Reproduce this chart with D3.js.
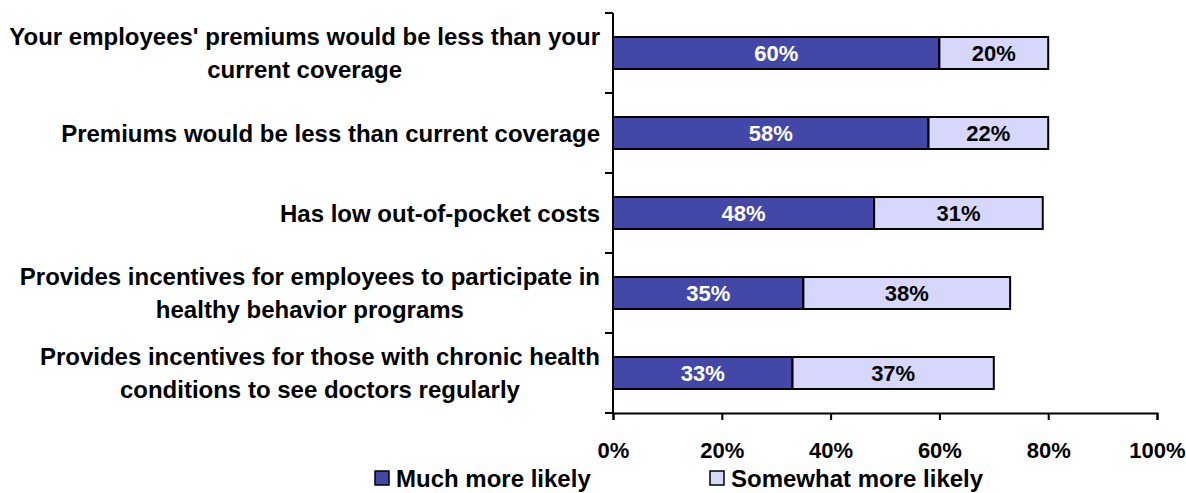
<!DOCTYPE html>
<html>
<head>
<meta charset="utf-8">
<script src="https://cdn.jsdelivr.net/npm/d3@7"></script>
<style>
  html, body { margin: 0; padding: 0; background: #ffffff; }
  svg { display: block; }
  text { font-family: "Liberation Sans", Arial, sans-serif; font-weight: bold; }
</style>
</head>
<body>
<svg id="chart" width="1186" height="493"></svg>
<script>
// Survey items, each label split into its printed lines
const categories = [
  ["Your employees' premiums would be less than your", "current coverage"],
  ["Premiums would be less than current coverage"],
  ["Has low out-of-pocket costs"],
  ["Provides incentives for employees to participate in", "healthy behavior programs"],
  ["Provides incentives for those with chronic health", "conditions to see doctors regularly"]
];
const seriesNames = ["Much more likely", "Somewhat more likely"];
const muchMoreLikely = [60, 58, 48, 35, 33];
const somewhatMoreLikely = [20, 22, 31, 38, 37];
const xTicks = [0, 20, 40, 60, 80, 100];

const colors = ["#4348a8", "#d6d7fb"];
const labelColors = ["#ffffff", "#000000"];

const svg = d3.select("#chart");
const plot = { left: 613, right: 1157, top: 13, bottom: 413 };

const x = d3.scaleLinear().domain([0, 100]).range([plot.left, plot.right]);
const y = d3.scaleBand()
  .domain(d3.range(categories.length))
  .range([plot.top, plot.bottom])
  .paddingInner(0.6)
  .paddingOuter(0.3);
const yBand = d3.scaleBand().domain(d3.range(categories.length)).range([plot.top, plot.bottom]);

const rows = categories.map((c, i) => ({
  i,
  segs: [
    { s: 0, x0: 0, x1: muchMoreLikely[i], v: muchMoreLikely[i] },
    { s: 1, x0: muchMoreLikely[i], x1: muchMoreLikely[i] + somewhatMoreLikely[i], v: somewhatMoreLikely[i] }
  ]
}));

// Stacked bars with value labels centred in each segment
const g = svg.append("g");
rows.forEach(r => {
  const yy = y(r.i), h = y.bandwidth();
  r.segs.forEach(s => {
    g.append("rect")
      .attr("x", x(s.x0)).attr("y", yy)
      .attr("width", x(s.x1) - x(s.x0)).attr("height", h)
      .attr("fill", colors[s.s])
      .attr("stroke", "#000").attr("stroke-width", 2);
    g.append("text")
      .attr("x", (x(s.x0) + x(s.x1)) / 2)
      .attr("y", yy + h / 2)
      .attr("dy", "0.36em")
      .attr("text-anchor", "middle")
      .attr("font-size", 22)
      .attr("fill", labelColors[s.s])
      .text(s.v + "%");
  });
});

// Category axis: vertical line with boundary ticks
const yAxis = svg.append("g");
yAxis.append("line")
  .attr("x1", plot.left).attr("x2", plot.left).attr("y1", plot.top).attr("y2", plot.bottom)
  .attr("stroke", "#000").attr("stroke-width", 2);
d3.range(categories.length + 1).forEach(k => {
  const yy = k < categories.length ? yBand(k) : plot.bottom;
  yAxis.append("line")
    .attr("x1", plot.left - 8).attr("x2", plot.left).attr("y1", yy).attr("y2", yy)
    .attr("stroke", "#000").attr("stroke-width", 2);
});

// Category labels: centred lines, block right-aligned near the axis
const lineH = 33;
categories.forEach((lines, i) => {
  const cy = yBand(i) + yBand.bandwidth() / 2;
  const grp = svg.append("g");
  const texts = lines.map((ln, j) => grp.append("text")
    .attr("y", cy + (j - (lines.length - 1) / 2) * lineH)
    .attr("dy", "0.36em")
    .attr("text-anchor", "middle")
    .attr("font-size", 24)
    .attr("fill", "#000")
    .text(ln));
  const w = d3.max(texts, t => t.node().getComputedTextLength());
  texts.forEach(t => t.attr("x", 600 - w / 2));
});

// Value axis
const xAxis = svg.append("g").attr("transform", `translate(0,${plot.bottom})`)
  .call(d3.axisBottom(x).tickValues(xTicks).tickFormat(d => d + "%").tickSize(7).tickPadding(22));
xAxis.select(".domain").attr("stroke", "#000").attr("stroke-width", 2);
xAxis.selectAll(".tick line").attr("stroke", "#000").attr("stroke-width", 2);
xAxis.selectAll(".tick text")
  .attr("font-size", 22)
  .attr("font-family", "'Liberation Sans', Arial, sans-serif")
  .attr("font-weight", "bold")
  .attr("fill", "#000");

// Legend
const legendX = [375, 710];
seriesNames.forEach((name, k) => {
  const lg = svg.append("g").attr("transform", `translate(${legendX[k]},471)`);
  lg.append("rect").attr("x", 0).attr("y", 0).attr("width", 14).attr("height", 14)
    .attr("fill", colors[k]).attr("stroke", "#000").attr("stroke-width", 1.5);
  lg.append("text").attr("x", 21).attr("y", 7).attr("dy", "0.36em")
    .attr("font-size", 24).attr("fill", "#000")
    .text(name);
});
</script>
</body>
</html>
